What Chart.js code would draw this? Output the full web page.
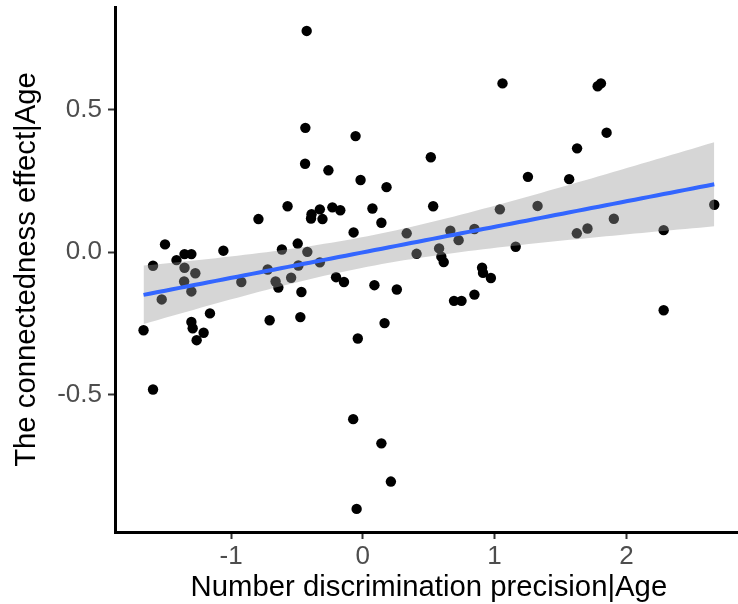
<!DOCTYPE html>
<html>
<head>
<meta charset="utf-8">
<script src="https://cdn.jsdelivr.net/npm/chart.js@4.4.1/dist/chart.umd.min.js"></script>
<style>
  html, body { margin: 0; padding: 0; background: #fff; overflow: hidden; }
  /* the original figure is cut off at the right edge, so the canvas runs past the window */
  #wrap { width: 738px; height: 604px; overflow: hidden; }
</style>
</head>
<body>
<div id="wrap"><canvas id="scatterChart" width="748" height="604"></canvas></div>
<script>
// values
const precision = [
  -0.426, -0.436, -0.438, -0.571, -0.792, -0.389, -0.393, -0.326, -0.306, -0.231,
  -0.171, -1.501, -1.353, -1.301, -1.414, -1.592, -1.353, -1.271, -1.356, -1.301,
  -1.526, -1.058, -0.922, -0.722, -0.662, -0.641, -0.614, -0.544, -0.494, -0.421,
  -0.489, -0.466, -1.160, -1.301, -1.291, -1.208, -1.261, -1.664, -0.707, -0.474,
  -1.592, 1.060, -0.055, -0.261, -0.017, 0.180, 0.516, 0.534, 0.073, 0.141,
  -0.070, 1.040, -0.326, 0.333, 0.408, 0.664, 0.727, 0.847, 0.579, 0.596,
  0.614, -0.203, -0.143, 0.088, 0.258, 0.165, -0.038, 0.905, 0.912, 0.972,
  0.692, 0.749, 0.847, 1.160, 1.782, 1.807, 1.850, 1.626, 1.253, 1.566,
  1.326, 2.667, 1.905, 1.624, 1.705, 2.283, 2.283, -0.073, 0.141, 0.213,
  -0.047
];
const connectedness = [
  0.776, 0.436, 0.310, 0.161, 0.116, 0.133, 0.118, 0.150, 0.116, 0.157,
  0.147, 0.027, -0.007, -0.007, -0.028, -0.048, -0.055, -0.074, -0.103, -0.138,
  -0.166, 0.005, -0.105, -0.061, -0.103, -0.124, 0.009, -0.090, 0.030, 0.001,
  -0.047, -0.140, -0.215, -0.245, -0.267, -0.283, -0.309, -0.274, -0.239, -0.228,
  -0.482, 0.592, 0.407, 0.287, 0.253, 0.228, 0.333, 0.161, 0.153, 0.103,
  0.069, 0.150, -0.036, 0.066, -0.006, 0.075, 0.042, 0.081, 0.013, -0.016,
  -0.035, -0.088, -0.105, -0.116, -0.131, -0.249, -0.303, -0.055, -0.073, -0.091,
  -0.171, -0.171, -0.149, 0.019, 0.582, 0.592, 0.419, 0.364, 0.264, 0.256,
  0.162, 0.166, 0.117, 0.066, 0.083, 0.077, -0.204, -0.586, -0.671, -0.805,
  -0.901
];
const xTicks = [-1, 0, 1, 2];
const xTickLabels = ['-1', '0', '1', '2'];
const yTicks = [-0.5, 0, 0.5];
const yTickLabels = ['-0.5', '0.0', '0.5'];

// linear fit with 95% band, like geom_smooth(method = "lm")
const n = precision.length;
const mx = precision.reduce((a, b) => a + b, 0) / n;
const my = connectedness.reduce((a, b) => a + b, 0) / n;
let sxx = 0, sxy = 0;
for (let i = 0; i < n; i++) {
  sxx += (precision[i] - mx) ** 2;
  sxy += (precision[i] - mx) * (connectedness[i] - my);
}
const slope = sxy / sxx;
const icpt = my - slope * mx;
let sse = 0;
for (let i = 0; i < n; i++) sse += (connectedness[i] - icpt - slope * precision[i]) ** 2;
const sigma = Math.sqrt(sse / (n - 2));
const tCrit = 1.987;

const xMin = Math.min(...precision), xMax = Math.max(...precision);
const fitLine = [], bandHi = [], bandLo = [];
for (let k = 0; k < 80; k++) {
  const x = xMin + (xMax - xMin) * k / 79;
  const y = icpt + slope * x;
  const se = sigma * Math.sqrt(1 / n + (x - mx) ** 2 / sxx);
  fitLine.push({ x: x, y: y });
  bandHi.push({ x: x, y: y + tCrit * se });
  bandLo.push({ x: x, y: y - tCrit * se });
}

// ggplot-style 5% expansion of the data range
const xPad = (xMax - xMin) * 0.05;

const points = precision.map((x, i) => ({ x: x, y: connectedness[i] }));
const fontFamily = '"Liberation Sans", Arial, sans-serif';

new Chart(document.getElementById('scatterChart'), {
  type: 'scatter',
  data: {
    datasets: [
      {
        data: points,
        backgroundColor: '#000',
        borderWidth: 0,
        pointRadius: 5.2,
        order: 3
      },
      {
        data: bandHi,
        type: 'line',
        showLine: true,
        borderWidth: 0,
        pointRadius: 0,
        fill: '+1',
        backgroundColor: 'rgba(153, 153, 153, 0.4)',
        order: 2
      },
      {
        data: bandLo,
        type: 'line',
        showLine: true,
        borderWidth: 0,
        pointRadius: 0,
        fill: false,
        order: 2
      },
      {
        data: fitLine,
        type: 'line',
        showLine: true,
        borderColor: '#3366FF',
        borderWidth: 4,
        pointRadius: 0,
        fill: false,
        order: 1
      }
    ]
  },
  options: {
    responsive: false,
    animation: false,
    layout: { padding: { top: 7, right: 0, left: 0, bottom: 0 } },
    plugins: {
      legend: { display: false },
      tooltip: { enabled: false }
    },
    scales: {
      x: {
        type: 'linear',
        min: xMin - xPad,
        max: xMax + xPad,
        afterBuildTicks: (s) => { s.ticks = xTicks.map(v => ({ value: v })); },
        afterFit: (s) => { s.height = 72; s.paddingLeft = 0; s.paddingRight = 0; },
        border: { display: true, color: '#000', width: 3 },
        grid: { drawOnChartArea: false, drawTicks: true, tickLength: 7, tickWidth: 2, tickColor: '#333' },
        ticks: {
          padding: 2,
          color: '#4d4d4d',
          font: { family: fontFamily, size: 26 },
          maxRotation: 0,
          callback: (v, i) => xTickLabels[i]
        },
        title: {
          display: true,
          text: 'Number discrimination precision|Age',
          color: '#000',
          font: { family: fontFamily, size: 29.3, lineHeight: 1 },
          padding: { top: 0, bottom: 1 }
        }
      },
      y: {
        type: 'linear',
        min: -0.982,
        max: 0.860,
        afterBuildTicks: (s) => { s.ticks = yTicks.map(v => ({ value: v })); },
        afterFit: (s) => { s.width = 115; s.paddingTop = 0; s.paddingBottom = 0; },
        border: { display: true, color: '#000', width: 3 },
        grid: { drawOnChartArea: false, drawTicks: true, tickLength: 7, tickWidth: 2, tickColor: '#333' },
        ticks: {
          padding: 6,
          color: '#4d4d4d',
          font: { family: fontFamily, size: 26 },
          callback: (v, i) => yTickLabels[i]
        },
        title: {
          display: true,
          text: 'The connectedness effect|Age',
          color: '#000',
          font: { family: fontFamily, size: 29.3, lineHeight: 1 },
          padding: { top: 12, bottom: 0 }
        }
      }
    }
  }
});
</script>
</body>
</html>
